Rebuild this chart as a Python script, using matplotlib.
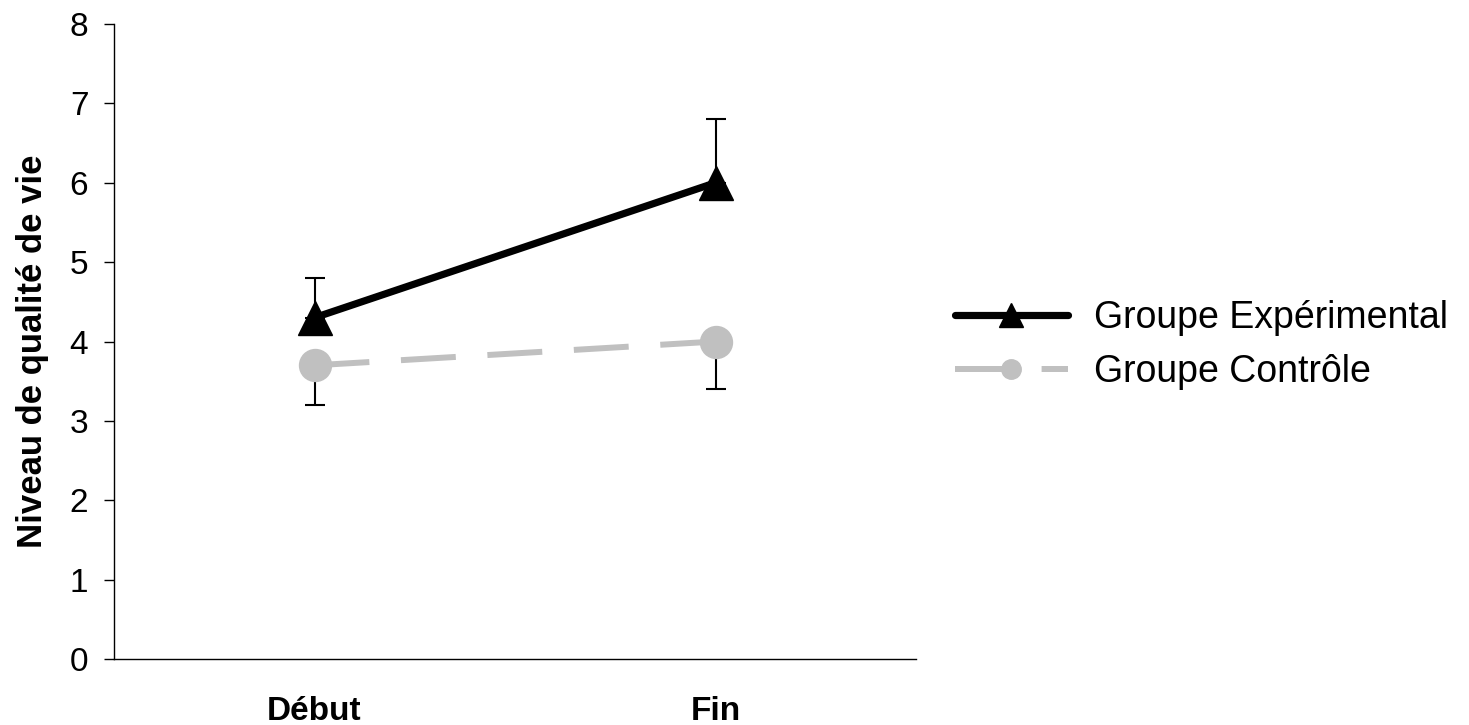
import matplotlib
matplotlib.use("Agg")
import matplotlib.pyplot as plt
from matplotlib.lines import Line2D

# Data
categories = ["Début", "Fin"]
exp_label = "Groupe Expérimental"
ctrl_label = "Groupe Contrôle"
exp_means = [4.3, 6.0]
exp_err_up = [0.5, 0.8]
ctrl_means = [3.7, 4.0]
ctrl_err_down = [0.5, 0.6]
y_ticks = [0, 1, 2, 3, 4, 5, 6, 7, 8]
y_label = "Niveau de qualité de vie"

plt.rcParams["font.family"] = ["Liberation Sans", "DejaVu Sans"]

fig = plt.figure(figsize=(14.69, 7.25), dpi=100)
ax = fig.add_axes([114 / 1469, 1 - 659 / 725, 802 / 1469, 635 / 725])

x = list(range(len(categories)))
grey = "#C0C0C0"

# One-sided error bars (upper for experimental, lower for control)
ax.errorbar(x, exp_means, yerr=[[0] * len(x), exp_err_up], fmt="none",
            ecolor="black", elinewidth=1.5, capsize=7.2, capthick=1.5, zorder=1)
ax.errorbar(x, ctrl_means, yerr=[ctrl_err_down, [0] * len(x)], fmt="none",
            ecolor="black", elinewidth=1.5, capsize=7.2, capthick=1.5, zorder=1)

ax.plot(x, ctrl_means, color=grey, lw=4.3, dashes=(9.2, 5.3),
        dash_capstyle="butt", marker="o", ms=23, mec=grey, mfc=grey, zorder=2)
ax.plot(x, exp_means, color="black", lw=5.2, marker="^", ms=24,
        mec="black", mfc="black", solid_capstyle="round", zorder=3)

ax.set_xlim(-0.5, len(categories) - 0.5)
ax.set_ylim(0, 8)
ax.set_yticks(y_ticks)
ax.set_xticks(x, labels=categories, fontsize=24, fontweight="bold")
ax.tick_params(axis="x", length=0, pad=27)
ax.tick_params(axis="y", length=7.5, width=1, pad=11, labelsize=24)

for side in ("top", "right"):
    ax.spines[side].set_visible(False)
for side in ("left", "bottom"):
    ax.spines[side].set_linewidth(1.0)

fig.text(33 / 1469, 1 - 351 / 725, y_label, rotation=90, ha="center",
         va="center", fontsize=25, fontweight="bold")

handles = [
    Line2D([], [], color="black", lw=5.2, marker="^", ms=17,
           solid_capstyle="round"),
    Line2D([], [], color=grey, lw=4.3, dashes=(9.2, 5.3),
           dash_capstyle="butt", marker="o", ms=14),
]
ax.legend(handles, [exp_label, ctrl_label], loc="center left",
          bbox_to_anchor=(955 / 1469, 1 - 345 / 725),
          bbox_transform=fig.transFigure, frameon=False, fontsize=27,
          handlelength=3.0, handletextpad=0.72, labelspacing=0.47,
          borderpad=0, borderaxespad=0)

fig.savefig("out.png", dpi=100)
